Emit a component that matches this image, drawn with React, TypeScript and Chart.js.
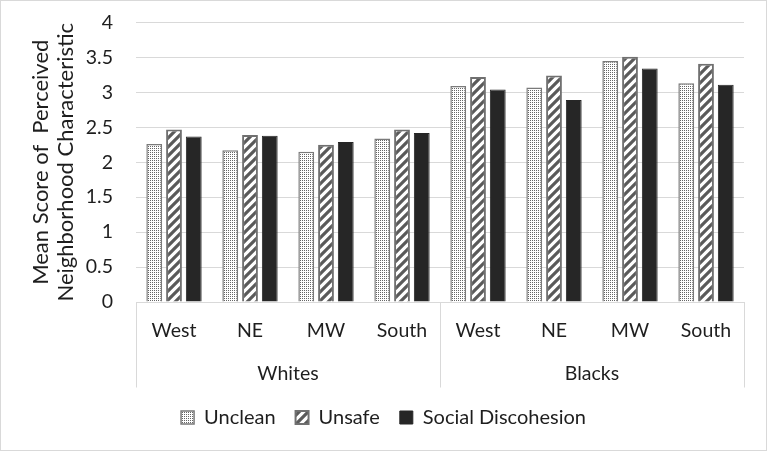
import React, { useEffect, useRef } from "react";
import { Chart, registerables } from "chart.js";

Chart.register(...registerables);

const categories = ["West", "NE", "MW", "South", "West", "NE", "MW", "South"];
const groups = ["Whites", "Blacks"];
const uncleanValues = [2.26, 2.17, 2.15, 2.34, 3.09, 3.07, 3.45, 3.13];
const unsafeValues = [2.47, 2.39, 2.25, 2.47, 3.22, 3.24, 3.51, 3.41];
const socialValues = [2.37, 2.38, 2.29, 2.42, 3.04, 2.89, 3.34, 3.11];
const seriesNames = ["Unclean", "Unsafe", "Social Discohesion"];
const yTitle = ["Mean Score of  Perceived", "Neighborhood Characteristic"];

const FONT = "Lato";
const TEXT = "#1e1e1e";
const GRID = "#d9d9d9";

function dotPattern(): CanvasPattern | string {
  const c = document.createElement("canvas");
  c.width = 2;
  c.height = 2;
  const g = c.getContext("2d");
  if (!g) return "#ccc";
  g.fillStyle = "#ffffff";
  g.fillRect(0, 0, 2, 2);
  g.fillStyle = "#666666";
  g.fillRect(0, 0, 1, 1);
  return g.createPattern(c, "repeat") || "#ccc";
}

function stripePattern(): CanvasPattern | string {
  const P = 9;
  const c = document.createElement("canvas");
  c.width = P;
  c.height = P;
  const g = c.getContext("2d");
  if (!g) return "#888";
  g.fillStyle = "#ffffff";
  g.fillRect(0, 0, P, P);
  g.strokeStyle = "#5a5a5a";
  g.lineWidth = 3.2;
  g.beginPath();
  g.moveTo(0, P);
  g.lineTo(P, 0);
  g.moveTo(-P / 2, P / 2);
  g.lineTo(P / 2, -P / 2);
  g.moveTo(P / 2, P * 1.5);
  g.lineTo(P * 1.5, P / 2);
  g.stroke();
  return g.createPattern(c, "repeat") || "#888";
}

const frame = {
  id: "frame",
  beforeDraw(chart: any) {
    const ctx = chart.ctx;
    ctx.save();
    ctx.fillStyle = "#ffffff";
    ctx.fillRect(0, 0, chart.width, chart.height);
    ctx.strokeStyle = GRID;
    ctx.lineWidth = 1;
    ctx.strokeRect(0.5, 0.5, chart.width - 1, chart.height - 1);
    ctx.restore();
  },
};

export default function App() {
  const ref = useRef<HTMLCanvasElement | null>(null);

  useEffect(() => {
    if (!ref.current) return;
    const sepColor = (ctx: any) =>
      ctx.type !== "tick" || ctx.index % 4 === 0 ? GRID : "rgba(0,0,0,0)";
    const chart = new Chart(ref.current, {
      type: "bar",
      data: {
        labels: categories,
        datasets: [
          {
            label: seriesNames[0],
            data: uncleanValues,
            backgroundColor: dotPattern() as any,
            borderColor: "#7a7a7a",
            borderWidth: 1.5,
            categoryPercentage: 0.78,
            barPercentage: 0.8,
          },
          {
            label: seriesNames[1],
            data: unsafeValues,
            backgroundColor: stripePattern() as any,
            borderColor: "#707070",
            borderWidth: 2,
            categoryPercentage: 0.78,
            barPercentage: 0.8,
          },
          {
            label: seriesNames[2],
            data: socialValues,
            backgroundColor: "#262626",
            borderColor: "#262626",
            borderWidth: 1,
            categoryPercentage: 0.78,
            barPercentage: 0.8,
          },
        ],
      },
      options: {
        animation: false,
        responsive: false,
        maintainAspectRatio: false,
        layout: { padding: { left: 0, right: 0, top: 22.5, bottom: 13.5 } },
        plugins: {
          tooltip: { enabled: false },
          legend: {
            position: "bottom",
            labels: {
              font: { family: FONT, size: 20 },
              color: TEXT,
              boxWidth: 13,
              boxHeight: 13,
              padding: 20,
            },
          },
        },
        scales: {
          y: {
            min: 0,
            max: 4,
            ticks: {
              stepSize: 0.5,
              font: { family: FONT, size: 19.5 },
              color: TEXT,
              padding: 23,
              callback: (v: any) => String(Number(v)),
            },
            grid: { color: GRID, drawTicks: false },
            border: { display: false },
            title: {
              display: true,
              text: yTitle,
              font: { family: FONT, size: 22, lineHeight: 1.14 },
              color: TEXT,
              padding: { top: 28, bottom: 0 },
            },
            afterFit(scale: any) {
              scale.width = 136;
              scale.paddingTop = 0;
              scale.paddingBottom = 0;
            },
          },
          rightPad: {
            type: "linear",
            position: "right",
            display: true,
            ticks: { display: false },
            grid: { display: false, drawTicks: false },
            border: { display: false },
            afterFit(scale: any) {
              scale.width = 23;
              scale.paddingTop = 0;
              scale.paddingBottom = 0;
            },
          },
          x: {
            type: "category",
            position: "bottom",
            offset: true,
            weight: 0,
            ticks: {
              font: { family: FONT, size: 19.5 },
              color: TEXT,
              padding: -29.5,
              maxRotation: 0,
              autoSkip: false,
            },
            grid: {
              offset: true,
              drawOnChartArea: false,
              drawTicks: true,
              tickLength: 47,
              color: sepColor,
              tickColor: sepColor,
            },
            border: { display: true, color: GRID },
            afterFit(scale: any) {
              scale.height = 47;
            },
          },
          x2: {
            type: "category",
            position: "bottom",
            labels: groups,
            offset: true,
            weight: 1,
            ticks: {
              font: { family: FONT, size: 19.5 },
              color: TEXT,
              padding: -25,
              maxRotation: 0,
              autoSkip: false,
            },
            grid: {
              offset: true,
              drawOnChartArea: false,
              drawTicks: true,
              tickLength: 38.5,
              color: GRID,
              tickColor: GRID,
            },
            border: { display: false },
            afterFit(scale: any) {
              scale.height = 38.5;
            },
          },
        },
      } as any,
      plugins: [frame],
    });
    return () => chart.destroy();
  }, []);

  return (
    <div style={{ position: "fixed", left: 0, top: 0, width: 767, height: 451 }}>
      <canvas ref={ref} width={767} height={451} style={{ display: "block" }} />
    </div>
  );
}
